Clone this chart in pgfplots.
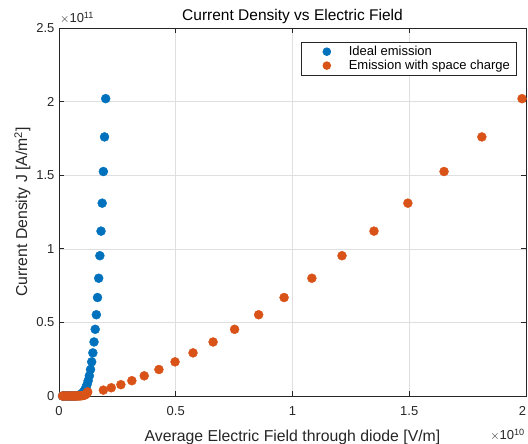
\documentclass[border=0pt]{standalone}
\usepackage{pgfplots}
\pgfplotsset{compat=1.18}
\usepackage{fontspec}
\setmainfont{Liberation Sans}
\definecolor{mblue}{rgb}{0,0.447,0.741}
\definecolor{morange}{rgb}{0.85,0.325,0.098}
\definecolor{maxis}{rgb}{0.15,0.15,0.15}
\begin{document}
\begin{tikzpicture}
\useasboundingbox (-59pt,-48pt) rectangle (469pt,396pt);
\begin{axis}[
  at={(0,0)}, anchor=south west,
  scale only axis, width=467pt, height=368pt,
  xmin=0, xmax=2, ymin=0, ymax=2.5,
  xtick={0,0.5,1,1.5,2}, ytick={0,0.5,1,1.5,2,2.5},
  xticklabels={0,0.5,1,1.5,{2\kern7pt}},
  scaled ticks=false,
  /pgf/number format/assume math mode=true,
  tick label style={font=\fontsize{13}{15}\selectfont, text=maxis},
  xticklabel style={yshift=-7pt},
  yticklabel style={xshift=-1pt},
  tick align=inside, tick pos=both,
  major tick length=5pt,
  axis line style={maxis, line width=0.6pt},
  every tick/.style={maxis, line width=0.6pt},
  grid=major, major grid style={gray!25, line width=0.5pt},
  xlabel={Average Electric Field through diode [V/m]},
  ylabel={Current Density J [A/m\textsuperscript{2}]},
  xlabel style={font=\fontsize{15.8}{18}\selectfont, text=maxis, yshift=-7pt},
  ylabel style={font=\fontsize{15.8}{18}\selectfont, text=maxis, yshift=-1pt},
  title={Current Density vs Electric Field},
  title style={font=\fontsize{15.5}{18}\selectfont, text=black, at={(0.5,1)}, anchor=base, yshift=1pt},
  clip=false,
  legend style={at={(0.979,0.962)}, anchor=north east, draw=maxis, line width=0.5pt,
    font=\fontsize{13}{15}\selectfont, inner xsep=4pt, inner ysep=2pt, row sep=-1pt},
  legend cell align=left,
  legend image code/.code={\path[draw=none, fill=none] (0pt,0pt) -- (42pt,0pt); \fill[#1, draw=none] (22pt,0pt) circle (4.3pt);},
]
\addplot[only marks, mark=*, mark size=4.5pt, mblue, mark options={draw=none, fill=mblue}] coordinates {
(0.200,2.02) (0.195,1.76) (0.190,1.525) (0.185,1.31) (0.180,1.12) (0.175,0.953)
(0.170,0.80) (0.165,0.669) (0.160,0.552) (0.155,0.453) (0.150,0.367) (0.145,0.293)
(0.140,0.232) (0.135,0.180) (0.130,0.137) (0.125,0.104) (0.120,0.077) (0.115,0.056)
(0.110,0.040) (0.105,0.028) (0.100,0.019) (0.095,0.0125) (0.090,0.008) (0.085,0.005)
(0.080,0.003) (0.075,0.0017) (0.070,0.0009) (0.065,0.0005) (0.060,0.0002) (0.055,0.0001)
(0.050,0.00004) (0.045,0.00001) (0.040,0) (0.035,0) (0.030,0) (0.025,0) (0.020,0) (0.015,0)
};
\addlegendentry{Ideal emission}
\addplot[only marks, mark=*, mark size=4.5pt, morange, mark options={draw=none, fill=morange}] coordinates {
(1.983,2.02) (1.811,1.76) (1.649,1.525) (1.494,1.31) (1.349,1.12) (1.212,0.953)
(1.083,0.80) (0.964,0.669) (0.855,0.552) (0.752,0.453) (0.660,0.367) (0.574,0.293)
(0.497,0.232) (0.428,0.180) (0.365,0.137) (0.312,0.104) (0.265,0.077) (0.224,0.056)
(0.190,0.040) (0.123,0.028) (0.120,0.019) (0.116,0.0125) (0.112,0.008) (0.108,0.005)
(0.102,0.003) (0.096,0.0017) (0.090,0.0009) (0.084,0.0005) (0.078,0.0002) (0.072,0.0001)
(0.066,0.00004) (0.060,0.00001) (0.052,0) (0.044,0) (0.036,0) (0.028,0) (0.021,0) (0.015,0)
};
\addlegendentry{Emission with space charge}
\end{axis}
\node[anchor=base west, font=\fontsize{13}{15}\selectfont, text=maxis, inner sep=0pt] at (1pt,373pt) {$\times$10\textsuperscript{11}};
\node[anchor=base east, font=\fontsize{13}{15}\selectfont, text=maxis, inner sep=0pt] at (466pt,-44pt) {$\times$10\textsuperscript{10}};
\end{tikzpicture}
\end{document}
